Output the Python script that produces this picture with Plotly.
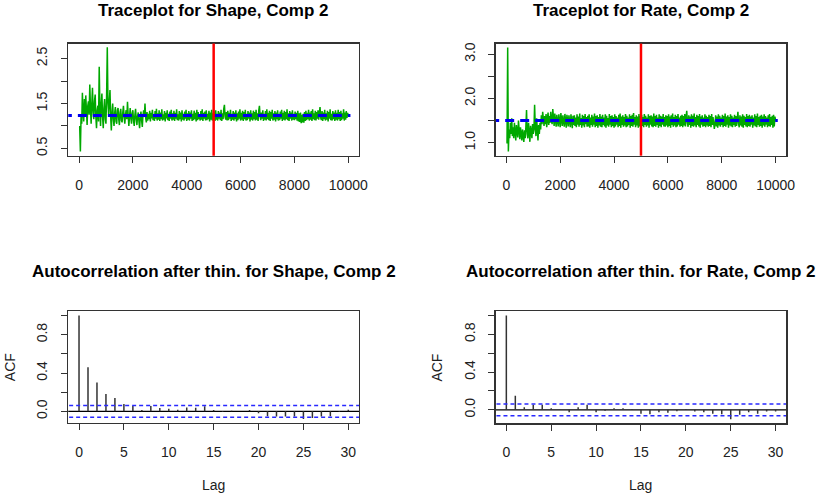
import plotly.graph_objects as go

# ---------------- data ----------------
iter_step = 25
shape_trace = [
    # 0 - 2500
    0.98, 0.98, 0.43, 1.20, 1.05, 1.74, 1.30, 1.10, 1.60, 1.20,
    1.68, 1.15, 1.02, 1.45, 1.55, 1.25, 1.92, 1.40, 1.05, 1.50,
    1.85, 1.30, 1.15, 1.55, 1.70, 1.20, 0.95, 1.35, 1.45, 1.10,
    2.32, 1.40, 1.00, 1.50, 1.72, 1.20, 0.95, 1.40, 1.60, 1.15,
    1.05, 1.70, 2.75, 1.50, 1.25, 1.55, 1.80, 1.20, 0.90, 1.30,
    1.50, 1.15, 1.00, 1.30, 1.42, 1.10, 1.05, 1.35, 1.40, 1.15,
    1.02, 1.30, 1.38, 1.12, 1.08, 1.30, 1.45, 1.20, 1.05, 1.25,
    1.35, 1.15, 1.54, 1.25, 1.00, 1.20, 1.40, 1.18, 1.05, 1.28,
    1.35, 1.12, 1.00, 1.25, 1.38, 1.15, 1.02, 1.22, 1.30, 1.10,
    0.95, 1.20, 1.32, 1.12, 0.98, 1.24, 1.35, 1.20, 1.50, 1.18,
    1.08,
    # 2525 - 10000
    1.31, 1.12, 1.27, 1.15, 1.34, 1.10, 1.29, 1.17, 1.36, 1.13, 1.25, 1.11, 1.33, 1.16, 1.38, 1.12, 1.28, 1.14, 1.35, 1.11,
    1.30, 1.15, 1.37, 1.12, 1.26, 1.14, 1.33, 1.10, 1.29, 1.17, 1.35, 1.13, 1.27, 1.11, 1.32, 1.16, 1.36, 1.12, 1.28, 1.14,
    1.34, 1.11, 1.29, 1.16, 1.37, 1.13, 1.26, 1.12, 1.33, 1.15, 1.30, 1.10, 1.35, 1.14, 1.27, 1.12, 1.32, 1.16, 1.36, 1.11,
    1.28, 1.14, 1.33, 1.12, 1.30, 1.16, 1.35, 1.11, 1.27, 1.13, 1.34, 1.15, 1.29, 1.10, 1.36, 1.13, 1.31, 1.15, 1.26, 1.12,
    1.33, 1.14, 1.37, 1.11, 1.29, 1.16, 1.32, 1.12, 1.35, 1.13, 1.27, 1.15, 1.34, 1.10, 1.30, 1.14, 1.36, 1.12, 1.28, 1.15,
    1.32, 1.11, 1.35, 1.14, 1.27, 1.12, 1.33, 1.16, 1.30, 1.13, 1.36, 1.11, 1.28, 1.15, 1.38, 1.47, 1.20, 1.14, 1.31, 1.12,
    1.34, 1.13, 1.29, 1.16, 1.36, 1.11, 1.27, 1.14, 1.33, 1.12, 1.30, 1.15, 1.35, 1.10, 1.28, 1.13, 1.32, 1.16, 1.37, 1.12,
    1.29, 1.14, 1.34, 1.11, 1.31, 1.15, 1.36, 1.12, 1.27, 1.13, 1.33, 1.16, 1.30, 1.10, 1.35, 1.14, 1.28, 1.12, 1.34, 1.15,
    1.31, 1.12, 1.36, 1.14, 1.28, 1.11, 1.34, 1.45, 1.22, 1.13, 1.30, 1.16, 1.35, 1.11, 1.27, 1.14, 1.33, 1.12, 1.37, 1.15,
    1.29, 1.13, 1.34, 1.11, 1.31, 1.16, 1.36, 1.12, 1.28, 1.14, 1.33, 1.10, 1.30, 1.15, 1.35, 1.12, 1.27, 1.13, 1.32, 1.16,
    1.36, 1.11, 1.29, 1.14, 1.34, 1.12, 1.31, 1.15, 1.37, 1.13, 1.28, 1.11, 1.33, 1.16, 1.30, 1.12, 1.35, 1.14, 1.27, 1.13,
    1.32, 1.15, 1.29, 1.12, 1.34, 1.10, 1.28, 1.09, 1.30, 1.06, 1.25, 1.08, 1.27, 1.07, 1.31, 1.11, 1.34, 1.13, 1.29, 1.15,
    1.36, 1.12, 1.30, 1.14, 1.33, 1.11, 1.37, 1.15, 1.28, 1.13, 1.34, 1.12, 1.31, 1.16, 1.35, 1.14, 1.29, 1.42, 1.18, 1.13,
    1.33, 1.11, 1.30, 1.15, 1.36, 1.12, 1.28, 1.14, 1.34, 1.10, 1.31, 1.16, 1.37, 1.13, 1.27, 1.12, 1.33, 1.15, 1.30, 1.11,
    1.35, 1.14, 1.29, 1.12, 1.36, 1.15, 1.31, 1.11, 1.34, 1.13, 1.28, 1.16, 1.37, 1.12, 1.30, 1.14, 1.33, 1.18, 1.29, 1.22,
]
rate_trace = [
    # 0 - 2500
    1.00, 1.00, 3.15, 0.80, 1.30, 1.10, 1.45, 1.20, 1.55, 1.15,
    1.35, 1.10, 1.45, 1.25, 1.05, 1.40, 1.20, 1.12, 1.50, 1.25,
    1.08, 1.35, 1.18, 1.05, 1.30, 1.15, 1.02, 1.28, 1.10, 1.35,
    1.74, 1.20, 1.10, 1.45, 1.25, 1.02, 1.38, 1.15, 1.10, 1.42,
    1.20, 1.30, 1.86, 1.35, 1.15, 1.55, 1.25, 1.05, 1.40, 1.20,
    1.45, 1.30, 1.62, 1.42, 1.70, 1.45, 1.38, 1.60, 1.42, 1.65,
    1.35, 1.55, 1.68, 1.40, 1.60, 1.45, 1.70, 1.50, 1.42, 1.76,
    1.50, 1.38, 1.66, 1.45, 1.36, 1.63, 1.48, 1.37, 1.64, 1.42,
    1.35, 1.67, 1.45, 1.38, 1.62, 1.40, 1.36, 1.65, 1.47, 1.34,
    1.63, 1.44, 1.37, 1.62, 1.42, 1.35, 1.64, 1.46, 1.33, 1.61,
    1.40,
    # 2525 - 10000
    1.62, 1.38, 1.57, 1.35, 1.64, 1.41, 1.59, 1.36, 1.66, 1.40, 1.56, 1.34, 1.63, 1.39, 1.60, 1.35, 1.65, 1.42, 1.58, 1.36,
    1.61, 1.37, 1.64, 1.34, 1.57, 1.40, 1.63, 1.36, 1.59, 1.41, 1.66, 1.35, 1.60, 1.38, 1.62, 1.34, 1.58, 1.39, 1.65, 1.36,
    1.59, 1.35, 1.63, 1.40, 1.57, 1.37, 1.64, 1.34, 1.61, 1.39, 1.56, 1.36, 1.65, 1.41, 1.60, 1.35, 1.62, 1.38, 1.58, 1.34,
    1.64, 1.37, 1.60, 1.41, 1.57, 1.35, 1.63, 1.38, 1.66, 1.34, 1.59, 1.40, 1.62, 1.36, 1.58, 1.39, 1.65, 1.35, 1.61, 1.37,
    1.57, 1.40, 1.64, 1.34, 1.60, 1.38, 1.63, 1.36, 1.67, 1.41, 1.58, 1.35, 1.62, 1.39, 1.59, 1.34, 1.65, 1.37, 1.60, 1.36,
    1.63, 1.38, 1.58, 1.35, 1.65, 1.40, 1.61, 1.36, 1.57, 1.39, 1.64, 1.34, 1.60, 1.41, 1.62, 1.37, 1.59, 1.35, 1.66, 1.38,
    1.60, 1.36, 1.63, 1.40, 1.57, 1.34, 1.64, 1.38, 1.61, 1.35, 1.59, 1.41, 1.65, 1.37, 1.58, 1.36, 1.62, 1.39, 1.60, 1.35,
    1.64, 1.38, 1.59, 1.34, 1.62, 1.40, 1.66, 1.36, 1.58, 1.39, 1.63, 1.35, 1.60, 1.37, 1.65, 1.41, 1.57, 1.36, 1.61, 1.38,
    1.63, 1.35, 1.60, 1.39, 1.65, 1.37, 1.58, 1.72, 1.44, 1.36, 1.62, 1.40, 1.59, 1.34, 1.64, 1.38, 1.61, 1.36, 1.66, 1.39,
    1.58, 1.35, 1.63, 1.40, 1.60, 1.37, 1.65, 1.34, 1.59, 1.41, 1.62, 1.36, 1.57, 1.38, 1.64, 1.35, 1.61, 1.39, 1.58, 1.36,
    1.63, 1.38, 1.60, 1.35, 1.65, 1.40, 1.58, 1.36, 1.31, 1.45, 1.62, 1.37, 1.59, 1.34, 1.64, 1.39, 1.61, 1.36, 1.57, 1.40,
    1.63, 1.35, 1.60, 1.38, 1.66, 1.36, 1.59, 1.41, 1.62, 1.34, 1.58, 1.39, 1.64, 1.37, 1.61, 1.35, 1.57, 1.40, 1.63, 1.36,
    1.60, 1.38, 1.56, 1.70, 1.42, 1.35, 1.62, 1.39, 1.59, 1.36, 1.64, 1.34, 1.61, 1.40, 1.58, 1.37, 1.65, 1.35, 1.60, 1.38,
    1.63, 1.36, 1.59, 1.41, 1.62, 1.34, 1.57, 1.39, 1.64, 1.37, 1.60, 1.35, 1.66, 1.40, 1.58, 1.36, 1.61, 1.38, 1.63, 1.34,
    1.59, 1.39, 1.64, 1.36, 1.60, 1.41, 1.57, 1.35, 1.62, 1.38, 1.65, 1.36, 1.58, 1.40, 1.61, 1.34, 1.63, 1.37, 1.59, 1.50,
]
iterations = [i * iter_step for i in range(len(shape_trace))]
rate_iterations = [i * iter_step for i in range(len(rate_trace))]
shape_mean = 1.23
rate_mean = 1.50
burn_in = 5000

lags = list(range(31))
shape_acf = [1.0, 0.46, 0.30, 0.18, 0.14, 0.076, 0.055, 0.014, 0.055, 0.035,
             0.028, 0.017, 0.04, 0.038, 0.052, 0.014, -0.007, 0.007, 0.002, 0.014,
             -0.02, -0.05, -0.055, -0.055, -0.055, -0.08, -0.07, -0.055, -0.05, -0.007,
             0.017]
rate_acf = [1.0, 0.15, 0.028, 0.053, 0.053, 0.018, 0.004, -0.025, 0.028, 0.053,
            -0.025, -0.01, 0.018, 0.018, 0.01, -0.04, -0.046, -0.025, -0.03, -0.014,
            0.01, -0.018, -0.025, -0.04, -0.046, -0.1, -0.053, -0.025, -0.04, -0.018,
            -0.018]
conf_limit = 0.062

trace_ticks = [0, 2000, 4000, 6000, 8000, 10000]
lag_ticks = [0, 5, 10, 15, 20, 25, 30]

titles = ["Traceplot for Shape, Comp 2", "Traceplot for Rate, Comp 2",
          "Autocorrelation after thin. for Shape, Comp 2",
          "Autocorrelation after thin. for Rate, Comp 2"]

# ---------------- layout geometry ----------------
W, H = 830, 498
FONT = "Liberation Sans, Arial, Helvetica, sans-serif"


def px_x(p):
    return p / W


def px_y(p):
    return 1 - p / H


boxes = {
    1: (69, 363, 42.7, 155),
    2: (501, 795, 42.7, 155),
    3: (69, 363, 311, 423),
    4: (501, 795, 311, 423.3),
}

fig = go.Figure()

green = "rgb(0,168,0)"

# Trace plots
for k, (xs_it, vals, mean) in {1: (iterations, shape_trace, shape_mean),
                               2: (rate_iterations, rate_trace, rate_mean)}.items():
    xa = "x" if k == 1 else f"x{k}"
    ya = "y" if k == 1 else f"y{k}"
    fig.add_trace(go.Scatter(x=xs_it, y=vals, mode="lines",
                             line=dict(color=green, width=1.5),
                             xaxis=xa, yaxis=ya, showlegend=False, hoverinfo="skip"))
    fig.add_trace(go.Scatter(x=[-600, 10080], y=[mean, mean], mode="lines",
                             line=dict(color="#0000EE", width=3, dash="9px,6px"),
                             xaxis=xa, yaxis=ya, showlegend=False, hoverinfo="skip"))

# ACF plots
for k, acf in {3: shape_acf, 4: rate_acf}.items():
    xa = f"x{k}"
    ya = f"y{k}"
    xs, ys = [], []
    for lag, v in zip(lags, acf):
        xs += [lag, lag, None]
        ys += [0, v, None]
    fig.add_trace(go.Scatter(x=[-5, 40], y=[0, 0], mode="lines",
                             line=dict(color="black", width=1.2),
                             xaxis=xa, yaxis=ya, showlegend=False, hoverinfo="skip"))
    fig.add_trace(go.Scatter(x=xs, y=ys, mode="lines",
                             line=dict(color="#333333", width=1.5),
                             xaxis=xa, yaxis=ya, showlegend=False, hoverinfo="skip"))
    for c in (conf_limit, -conf_limit):
        fig.add_trace(go.Scatter(x=[-5, 40], y=[c, c], mode="lines",
                                 line=dict(color="rgb(40,40,255)", width=1.5, dash="4px,3px"),
                                 xaxis=xa, yaxis=ya, showlegend=False, hoverinfo="skip"))

axis_common = dict(
    showline=True, mirror=True, linecolor="#333333", linewidth=1.2,
    ticks="outside", ticklen=6, tickcolor="#333333", tickwidth=1,
    showgrid=False, zeroline=False, fixedrange=True,
    tickfont=dict(family=FONT, size=14, color="#222222"),
)

yaxis_cfg = {
    1: dict(range=[0.338, 2.833], tickvals=[0.5, 1.0, 1.5, 2.0, 2.5],
            ticktext=["0.5", "", "1.5", "", "2.5"]),
    2: dict(range=[0.707, 3.239], tickvals=[1.0, 1.5, 2.0, 2.5, 3.0],
            ticktext=["1.0", "", "2.0", "", "3.0"]),
    3: dict(range=[-0.1232, 1.0432], tickvals=[0, 0.2, 0.4, 0.6, 0.8, 1.0],
            ticktext=["0.0", "", "0.4", "", "0.8", ""]),
    4: dict(range=[-0.144, 1.044], tickvals=[0, 0.2, 0.4, 0.6, 0.8, 1.0],
            ticktext=["0.0", "", "0.4", "", "0.8", ""]),
}
xaxis_cfg = {
    1: dict(range=[-400, 10400], tickvals=trace_ticks, ticktext=[str(t) for t in trace_ticks]),
    2: dict(range=[-400, 10400], tickvals=trace_ticks, ticktext=[str(t) for t in trace_ticks]),
    3: dict(range=[-1.2, 31.2], tickvals=lag_ticks, ticktext=[str(t) for t in lag_ticks]),
    4: dict(range=[-1.2, 31.2], tickvals=lag_ticks, ticktext=[str(t) for t in lag_ticks]),
}

layout = dict(width=W, height=H, autosize=False, margin=dict(l=0, r=0, t=0, b=0),
              paper_bgcolor="white", plot_bgcolor="white", showlegend=False)

annotations = []
shapes = []
for k, (x0, x1, y0, y1) in boxes.items():
    xname = "xaxis" if k == 1 else f"xaxis{k}"
    yname = "yaxis" if k == 1 else f"yaxis{k}"
    anchor_x = "x" if k == 1 else f"x{k}"
    anchor_y = "y" if k == 1 else f"y{k}"
    layout[xname] = dict(domain=[px_x(x0), px_x(x1)], anchor=anchor_y,
                         ticklabelstandoff=10, **axis_common, **xaxis_cfg[k])
    layout[yname] = dict(domain=[px_y(y1), px_y(y0)], anchor=anchor_x,
                         tickangle=-90, ticklabelstandoff=8, **axis_common, **yaxis_cfg[k])
    cx = (x0 + x1) / 2
    title_y = 9.5 if k in (1, 2) else 271.5
    annotations.append(dict(text=f"<b>{titles[k-1]}</b>", x=px_x(cx), y=px_y(title_y),
                            xref="paper", yref="paper", xanchor="center", yanchor="middle",
                            showarrow=False, font=dict(family=FONT, size=17, color="black")))

# axis titles for ACF plots
for k, acf_x in ((3, 10), (4, 442)):
    x0, x1, y0, y1 = boxes[k]
    annotations.append(dict(text="ACF", x=px_x(acf_x), y=px_y((y0 + y1) / 2),
                            xref="paper", yref="paper", xanchor="center", yanchor="middle",
                            textangle=-90, showarrow=False,
                            font=dict(family=FONT, size=14, color="#222222")))
    annotations.append(dict(text="Lag", x=px_x((x0 + x1) / 2), y=px_y(485),
                            xref="paper", yref="paper", xanchor="center", yanchor="middle",
                            showarrow=False, font=dict(family=FONT, size=14, color="#222222")))

# burn-in vertical red lines
for k in (1, 2):
    xr = "x" if k == 1 else f"x{k}"
    yr = "y domain" if k == 1 else f"y{k} domain"
    shapes.append(dict(type="line", xref=xr, yref=yr, x0=burn_in, x1=burn_in, y0=0, y1=1,
                       line=dict(color="red", width=2.5), layer="above"))

layout["annotations"] = annotations
layout["shapes"] = shapes
fig.update_layout(**layout)

fig.write_html(
    "out.html",
    config={"displayModeBar": False, "responsive": False, "staticPlot": True},
    post_script=(
        "var s=document.documentElement.style;s.margin='0';s.padding='0';s.overflow='hidden';"
        "s.width='830px';s.height='498px';"
        "var b=document.body.style;b.margin='0';b.padding='0';b.overflow='hidden';"
        "b.width='830px';b.height='498px';"
        "var g=document.getElementById('{plot_id}');"
        "g.style.position='absolute';g.style.left='0px';g.style.top='0px';"
    ),
)
